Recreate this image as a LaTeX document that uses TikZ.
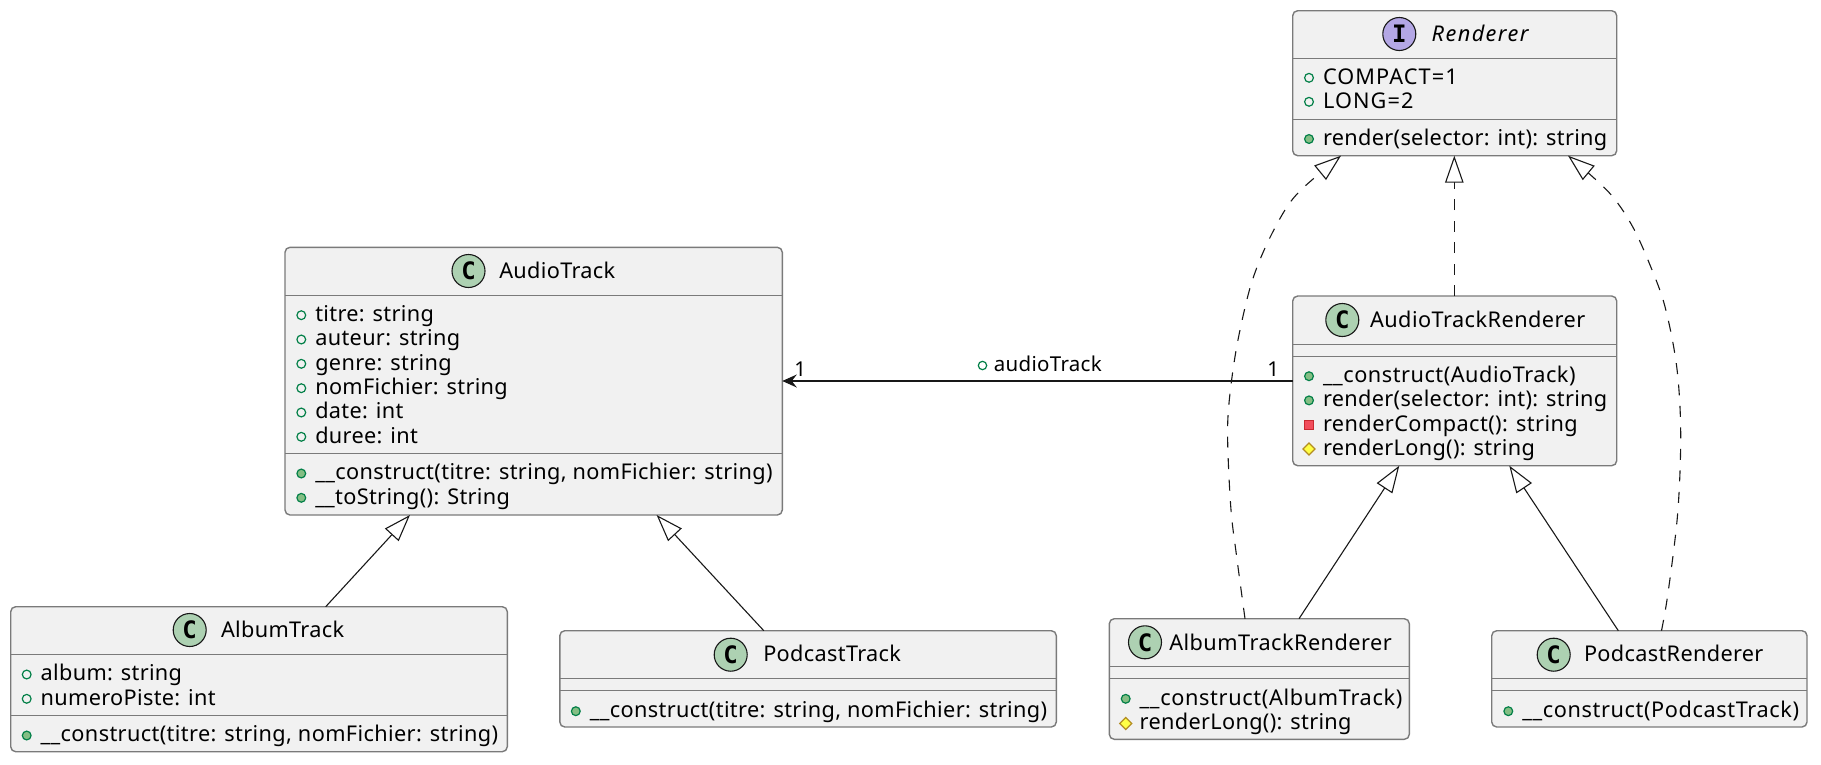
\documentclass[tikz,border=0pt]{standalone}
\usepackage{fontspec}
\setmainfont{Noto Sans}[LetterSpace=1.5]
\newfontfamily\italfont{Noto Sans}[LetterSpace=6.5]
\newfontfamily\glyphfont{DejaVu Sans Mono}
\usetikzlibrary{arrows.meta,fit}
\definecolor{boxfill}{HTML}{F1F1F1}
\definecolor{ink}{HTML}{181818}
\definecolor{boxline}{HTML}{7A7A7A}
\definecolor{classgreen}{HTML}{ADD1B2}
\definecolor{ifacepurple}{HTML}{B4A7E5}
\definecolor{visgreen}{HTML}{038048}
\definecolor{visfill}{HTML}{84BE84}
\definecolor{privfill}{HTML}{F24D5C}
\definecolor{privline}{HTML}{C82930}
\definecolor{protfill}{HTML}{FFFF44}
\definecolor{protline}{HTML}{B38D22}
\newcounter{lblno}
\tikzset{
  classbox/.style={draw=boxline,fill=boxfill,line width=1.4pt,rounded corners=5pt,inner sep=0pt,outer sep=0pt},
  sepline/.style={draw=boxline,line width=1.4pt},
  bodytext/.style={anchor=base west,inner sep=0pt,outer sep=0pt,text=black,font=\fontsize{21.7}{24}\selectfont},
  edgetext/.style={anchor=base west,inner sep=0pt,outer sep=0pt,text=black,font=\fontsize{20.5}{24}\selectfont},
  badge/.style={circle,draw=ink,line width=1.1pt,minimum size=33pt,inner sep=0pt,font=\glyphfont\bfseries\fontsize{24}{24}\selectfont},
  fieldicon/.style={draw=visgreen,line width=1.2pt},
  methodicon/.style={draw=visgreen,fill=visfill,line width=1.2pt},
  privicon/.style={draw=privline,fill=privfill,line width=1.2pt},
  proticon/.style={draw=protline,fill=protfill,line width=1.2pt},
  extends/.style={draw=ink,line width=1.1pt,-{Triangle[open,fill=white,length=27pt,width=18.5pt,line width=1.1pt]}},
  realizes/.style={extends,dash pattern=on 11pt off 10.5pt},
  assoc/.style={draw=ink,line width=1.1pt,-{Stealth[length=14.5pt,width=13pt,inset=5pt]}}
}
\newcommand{\umlbox}[5]{%
  \coordinate (#1nw) at (#2,#3);\coordinate (#1se) at (#4,#5);
  \node[classbox,fit=(#1nw)(#1se)] (#1) {};}
\newcommand{\lbl}[3]{\stepcounter{lblno}\node[bodytext] (t\arabic{lblno}) at (#1,#2) {#3};}
\newcommand{\elbl}[3]{\stepcounter{lblno}\node[edgetext] (t\arabic{lblno}) at (#1,#2) {#3};}
\newcommand{\fld}[3]{\draw[fieldicon] (#1,#2-5.5) circle (4.4);\lbl{#1+14}{#2+0.8}{#3}}
\newcommand{\mth}[3]{\draw[methodicon] (#1,#2-5.5) circle (4.4);\lbl{#1+14}{#2+0.8}{#3}}
\newcommand{\prv}[3]{\draw[privicon] (#1-4.6,#2-10.1) rectangle (#1+4.6,#2-0.9);\lbl{#1+14}{#2+0.8}{#3}}
\newcommand{\prt}[3]{\draw[proticon] (#1-6,#2-5.5) -- (#1,#2-11.5) -- (#1+6,#2-5.5) -- (#1,#2+0.5) -- cycle;\lbl{#1+14}{#2+0.8}{#3}}
\newcommand{\badgeC}[3]{\node[badge,fill=classgreen] (#1) at (#2,#3) {C};}
\newcommand{\wider}[1]{\addfontfeatures{LetterSpace=#1}}
\begin{document}
\begin{tikzpicture}[x=1pt,y=-1pt]
\useasboundingbox (0,0) rectangle (1821,764);
% Boxes
\umlbox{renderer}{1292.7}{10.7}{1616.7}{155.7}
\umlbox{atr}{1292.7}{296}{1616.7}{465.7}
\umlbox{audio}{285}{247.3}{782.3}{515}
\umlbox{album}{10.7}{606.7}{507.3}{751.7}
\umlbox{podcast}{559.8}{630.7}{1056.3}{727}
\umlbox{albr}{1109.3}{618.7}{1409.3}{739.3}
\umlbox{podr}{1491.7}{630.7}{1807}{727}
% Separators
\draw[sepline] (renderer.west |- 0,58.3) -- (renderer.east |- 0,58.3);
\draw[sepline] (renderer.west |- 0,119.3) -- (renderer.east |- 0,119.3);
\draw[sepline] (atr.west |- 0,344.3) -- (atr.east |- 0,344.3);
\draw[sepline] (atr.west |- 0,356.3) -- (atr.east |- 0,356.3);
\draw[sepline] (audio.west |- 0,295.3) -- (audio.east |- 0,295.3);
\draw[sepline] (audio.west |- 0,453.3) -- (audio.east |- 0,453.3);
\draw[sepline] (album.west |- 0,654.3) -- (album.east |- 0,654.3);
\draw[sepline] (album.west |- 0,715.3) -- (album.east |- 0,715.3);
\draw[sepline] (podcast.west |- 0,678.7) -- (podcast.east |- 0,678.7);
\draw[sepline] (podcast.west |- 0,690.7) -- (podcast.east |- 0,690.7);
\draw[sepline] (albr.west |- 0,666.3) -- (albr.east |- 0,666.3);
\draw[sepline] (albr.west |- 0,678.3) -- (albr.east |- 0,678.3);
\draw[sepline] (podr.west |- 0,678.7) -- (podr.east |- 0,678.7);
\draw[sepline] (podr.west |- 0,690.7) -- (podr.east |- 0,690.7);
% Renderer
\node[badge,fill=ifacepurple] (irenderer) at (1399.3,34) {I};
\lbl{1431.7}{41}{\italfont\itshape Renderer}
\fld{1309}{83.3}{\wider{5}COMPACT=1}
\fld{1309}{107.3}{\wider{5}LONG=2}
\mth{1309}{144.5}{render(selector: int): string}
% AudioTrackRenderer
\badgeC{catr}{1342.3}{320}
\lbl{1370}{327.3}{\wider{2.1}AudioTrackRenderer}
\mth{1309}{381.7}{\wider{2.4}\_\_construct(AudioTrack)}
\mth{1309}{405.9}{render(selector: int): string}
\prv{1309}{430.2}{\wider{2}renderCompact(): string}
\prt{1309}{454.5}{renderLong(): string}
% AudioTrack
\badgeC{caudio}{468.5}{271}
\lbl{499.3}{278.3}{AudioTrack}
\fld{301.3}{320.7}{titre: string}
\fld{301.3}{345}{auteur: string}
\fld{301.3}{369.3}{genre: string}
\fld{301.3}{393.7}{nomFichier: string}
\fld{301.3}{418}{date: int}
\fld{301.3}{442.3}{duree: int}
\mth{301.3}{479}{\wider{1.7}\_\_construct(titre: string, nomFichier: string)}
\mth{301.3}{503.3}{\_\_toString(): String}
% AlbumTrack
\badgeC{calbum}{189.7}{630}
\lbl{221}{637.3}{AlbumTrack}
\fld{26.7}{680}{album: string}
\fld{26.7}{704.3}{numeroPiste: int}
\mth{26.7}{741}{\wider{1.7}\_\_construct(titre: string, nomFichier: string)}
% PodcastTrack
\badgeC{cpodcast}{730.7}{654.7}
\lbl{763.3}{661.7}{PodcastTrack}
\mth{575.8}{716.7}{\wider{1.7}\_\_construct(titre: string, nomFichier: string)}
% AlbumTrackRenderer
\badgeC{calbr}{1145}{642.3}
\lbl{1169.3}{650}{\wider{2.1}AlbumTrackRenderer}
\mth{1125.7}{704.3}{\wider{3}\_\_construct(AlbumTrack)}
\prt{1125.7}{729}{renderLong(): string}
% PodcastRenderer
\badgeC{cpodr}{1553.7}{654.7}
\lbl{1584}{661.7}{PodcastRenderer}
\mth{1508.3}{716.7}{\wider{2.8}\_\_construct(PodcastTrack)}
% Connectors
\draw[extends] ([xshift=325.7pt-259pt]album.north) -- ([xshift=410pt-533.65pt]audio.south);
\draw[extends] ([xshift=763.8pt-808.05pt]podcast.north) -- ([xshift=656.6pt-533.65pt]audio.south);
\draw[extends] ([xshift=1299pt-1259.3pt]albr.north) -- ([xshift=1399.3pt-1454.7pt]atr.south);
\draw[extends] ([xshift=1618.3pt-1649.35pt]podr.north) -- ([xshift=1509.3pt-1454.7pt]atr.south);
\draw[realizes] ([xshift=-0.4pt]atr.north) -- ([xshift=-0.4pt]renderer.south);
\coordinate (leftstart) at ([xshift=1245pt-1259.3pt]albr.north);
\coordinate (leftend) at ([xshift=1341pt-1454.7pt]renderer.south);
\coordinate (rightstart) at ([xshift=1661.5pt-1649.35pt]podr.north);
\coordinate (rightend) at ([xshift=1568pt-1454.7pt]renderer.south);
\draw[realizes] plot[smooth,tension=0.55] coordinates {(leftstart) (1236.7,557) (1231,510) (1227.7,443) (1229,403) (1236.7,346.7) (1250,288) (1265,248) (1285,210) (1303,188) (leftend)};
\draw[realizes] plot[smooth,tension=0.55] coordinates {(rightstart) (1668,593) (1677.7,513) (1680.7,433) (1676.7,366.7) (1665,306.7) (1650,265) (1631.7,225) (1608.3,191.7) (rightend)};
\coordinate (assocy) at (1000,381);
\draw[assoc] (atr.west |- assocy) -- (audio.east |- assocy);
\elbl{794.3}{376.5}{1}
\elbl{1267.4}{376.5}{1}
\draw[fieldicon] (982.5,365.5) circle (4.2);
\elbl{993.8}{371.5}{audioTrack}
\end{tikzpicture}
\end{document}
